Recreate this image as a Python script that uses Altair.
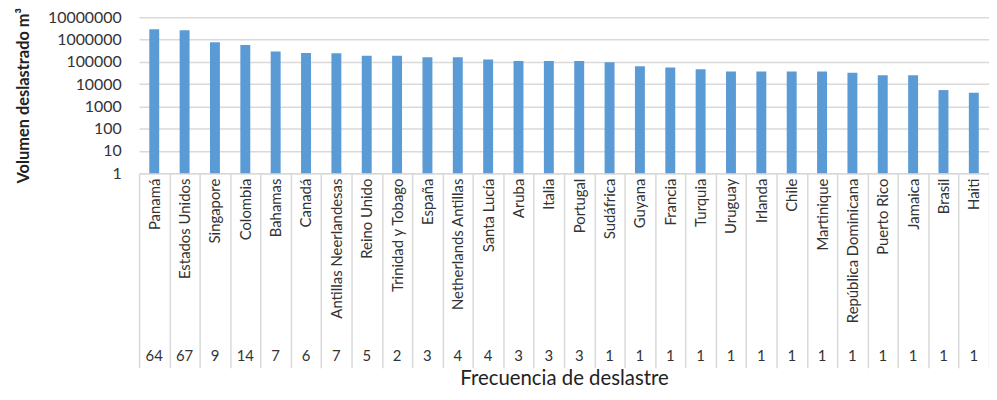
import altair as alt
import pandas as pd

countries = ["Panamá", "Estados Unidos", "Singapore", "Colombia", "Bahamas", "Canadá",
             "Antillas Neerlandesas", "Reino Unido", "Trinidad y Tobago", "España",
             "Netherlands Antillas", "Santa Lucía", "Aruba", "Italia", "Portugal",
             "Sudáfrica", "Guyana", "Francia", "Turquia", "Uruguay", "Irlanda", "Chile",
             "Martinique", "República Dominicana", "Puerto Rico", "Jamaica", "Brasil", "Haiti"]
volumes = [2900000, 2600000, 760000, 570000, 290000, 250000, 240000, 190000, 190000,
           160000, 160000, 126000, 110000, 110000, 110000, 97000, 64000, 56000, 47000,
           37000, 37000, 37000, 37000, 32000, 25000, 25000, 5400, 4100]
freqs = [64, 67, 9, 14, 7, 6, 7, 5, 2, 3, 4, 4, 3, 3, 3, 1, 1, 1, 1, 1, 1, 1, 1, 1, 1, 1, 1, 1]
y_ticks = [1, 10, 100, 1000, 10000, 100000, 1000000, 10000000]

df = pd.DataFrame({"pais": countries, "volumen": volumes, "frecuencia": freqs})

FONT = "Lato"
GRID = "#d9d9d9"

x_enc = alt.X(
    "pais:N", sort=None,
    scale=alt.Scale(paddingInner=0, paddingOuter=0),
    axis=alt.Axis(
        title="Frecuencia de deslastre", titleFont=FONT, titleFontSize=20.5,
        titleFontWeight="normal", titleColor="#222222", titlePadding=0,
        labelAngle=-90, labelFont=FONT, labelFontSize=15, labelColor="#333333",
        labelPadding=-191, labelLimit=300,
        tickBand="extent", tickSize=196, tickColor=GRID, tickWidth=1.5,
        domainColor=GRID, domainWidth=1.5, grid=False,
    ),
)

bars = alt.Chart(df).mark_bar(size=10, color="#5B9BD5").encode(
    x=x_enc,
    y=alt.Y(
        "volumen:Q",
        scale=alt.Scale(type="log", domain=[1, 10000000], nice=False),
        axis=alt.Axis(
            values=y_ticks, format="d", title="Volumen deslastrado m³",
            titleFont=FONT, titleFontSize=16.5, titleFontWeight="bold", titleColor="#222222",
            titlePadding=16, labelFont=FONT, labelFontSize=16, labelColor="#333333",
            labelPadding=18, ticks=False, domain=False, gridColor=GRID, gridWidth=1.5,
        ),
    ),
    y2=alt.datum(1),
)

nums = alt.Chart(df).mark_text(font=FONT, fontSize=15, color="#333333", baseline="middle").encode(
    x=alt.X("pais:N", sort=None),
    y=alt.value(341),
    text="frecuencia:Q",
)

chart = alt.layer(bars, nums).properties(
    width=856, height=157,
    autosize=alt.AutoSizeParams(type="none"),
    padding={"left": 132, "top": 8, "right": 0, "bottom": 218},
).configure_view(stroke=None)

chart.save("out.html", embed_options={"renderer": "svg", "actions": False})
